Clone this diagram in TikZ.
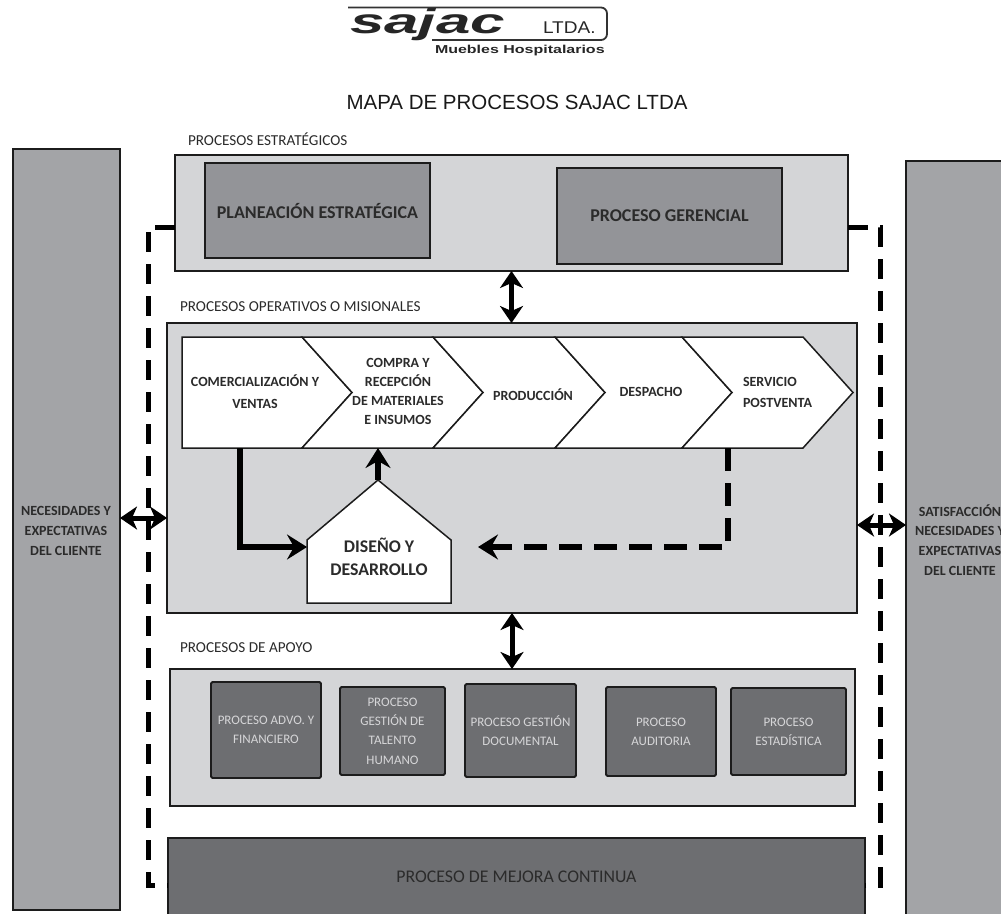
\documentclass[tikz,border=0pt]{standalone}
\usepackage{fontspec}
\setmainfont{Carlito}
\newfontfamily\arialfont{Liberation Sans}
\usetikzlibrary{arrows.meta}
\definecolor{lightbox}{HTML}{D4D5D7}
\definecolor{sidebox}{HTML}{A3A4A7}
\definecolor{midbox}{HTML}{939498}
\definecolor{darkbox}{HTML}{6D6E71}
\definecolor{ink}{HTML}{1C1C1C}
\definecolor{txt}{HTML}{2B2B2B}
\definecolor{lighttxt}{HTML}{D6D6D8}
\begin{document}
\begin{tikzpicture}[x=1pt,y=-1pt,
  every node/.style={inner sep=0pt,outer sep=0pt},
  box/.style={draw=ink,line width=1.6pt,anchor=north west,align=center},
  lbl/.style={anchor=west,text=txt,font=\fontsize{15.2}{17}\selectfont},
  big/.style={font=\bfseries\fontsize{18}{21}\selectfont,text=txt},
  chevshape/.style={fill=white,draw=ink,line width=1.5pt,line join=miter},
  chevtxt/.style={align=center,text=txt,font=\bfseries\fontsize{14}{19}\selectfont},
  sidetxt/.style={align=center,text=txt,font=\bfseries\fontsize{14}{19.8}\selectfont},
  sub/.style={box,fill=darkbox,rounded corners=1.5pt,line width=1.8pt,text=lighttxt,font=\fontsize{13}{19.3}\selectfont},
  solidarrow/.style={draw=black,line width=6pt,-{Stealth[length=20pt,width=25pt,inset=7pt]}},
  dashedarrow/.style={draw=black,line width=6pt,dash pattern=on 23pt off 12pt,-{Stealth[length=20pt,width=25pt,inset=7pt]}},
  dblarrow/.style={draw=black,line width=5pt,{Stealth[length=17pt,width=23pt,inset=5pt]}-{Stealth[length=17pt,width=23pt,inset=5pt]}},
  dashloop/.style={draw=black,line width=5pt,dash pattern=on 20pt off 12pt,line join=miter}
]
\useasboundingbox (0,0) rectangle (1001,913);
\clip (0,0) rectangle (1001,913);
\fill[white] (0,0) rectangle (1001,913);

% logo
\node[anchor=base west,text=black!85,font=\arialfont\bfseries\itshape\fontsize{35}{35}\selectfont] (logo) at (350,33) {\scalebox{1.77}[1]{sajac}};
\node[anchor=base west,text=black!85,font=\arialfont\fontsize{17}{17}\selectfont] (ltda) at (543,33) {\scalebox{1.12}[1]{LTDA.}};
\node[anchor=base west,text=black!85,font=\arialfont\bfseries\fontsize{11.5}{11.5}\selectfont] (muebles) at (435,53) {\scalebox{1.39}[1]{Muebles Hospitalarios}};
\draw[black!80,line width=1.8pt,rounded corners=6pt] (348,7.5) -- (607,7.5) -- (607,40) -- (432,40);

% title
\node[font=\arialfont\fontsize{20.5}{22}\selectfont,text=black!90] (title) at (517,102) {MAPA DE PROCESOS SAJAC LTDA};

% side boxes
\node[box,fill=sidebox,minimum width=107pt,minimum height=761pt] (left) at (13,149) {};
\node[sidetxt] (lefttxt) at (66,531) {NECESIDADES Y\\EXPECTATIVAS\\DEL CLIENTE};
\node[box,fill=sidebox,minimum width=110pt,minimum height=770pt] (right) at (906,161) {};
\node[sidetxt] (righttxt) at (960,540) {SATISFACCIÓN\\NECESIDADES Y\\EXPECTATIVAS\\DEL CLIENTE};

% strategic
\node[lbl] (lblE) at (188,139) {PROCESOS ESTRATÉGICOS};
\node[box,fill=lightbox,minimum width=673pt,minimum height=116pt] (strat) at (175,155) {};
\node[box,fill=midbox,minimum width=225pt,minimum height=95pt,big] (plan) at (205,163) {PLANEACIÓN ESTRATÉGICA};
\node[box,fill=midbox,minimum width=225pt,minimum height=96pt,big] (ger) at (557,168) {PROCESO GERENCIAL};

% operative
\node[lbl] (lblO) at (180,307) {PROCESOS OPERATIVOS O MISIONALES};
\node[box,fill=lightbox,minimum width=690pt,minimum height=290pt] (oper) at (167,323) {};
\filldraw[chevshape] (182,337) -- (302,337) -- (352,392.5) -- (302,448) -- (182,448) -- cycle;
\filldraw[chevshape] (302,337) -- (433,337) -- (483,392.5) -- (433,448) -- (302,448) -- (352,392.5) -- cycle;
\filldraw[chevshape] (433,337) -- (555,337) -- (605,392.5) -- (555,448) -- (433,448) -- (483,392.5) -- cycle;
\filldraw[chevshape] (555,337) -- (682,337) -- (732,392.5) -- (682,448) -- (555,448) -- (605,392.5) -- cycle;
\filldraw[chevshape] (682,337) -- (803,337) -- (853,392.5) -- (803,448) -- (682,448) -- (732,392.5) -- cycle;
\node[chevtxt,font=\bfseries\fontsize{14}{22}\selectfont] (ch1) at (255,392) {COMERCIALIZACIÓN Y\\VENTAS};
\node[chevtxt] (ch2) at (398,391.5) {COMPRA Y\\RECEPCIÓN\\DE MATERIALES\\E INSUMOS};
\node[chevtxt] (ch3) at (533,395) {PRODUCCIÓN};
\node[chevtxt] (ch4) at (651,392) {DESPACHO};
\node[chevtxt,align=left,anchor=west,font=\bfseries\fontsize{14}{21}\selectfont] (ch5) at (743,392.5) {SERVICIO\\POSTVENTA};

% design
\filldraw[chevshape] (307,603) -- (307,540) -- (378,480) -- (451,540) -- (451,603) -- cycle;
\node[text=txt,align=center,font=\bfseries\fontsize{17.8}{23}\selectfont] (dis) at (379,557) {DISEÑO Y\\DESARROLLO};
\coordinate (c1b) at (240,448);
\coordinate (disL) at (307,547);
\coordinate (disTop) at (378,480);
\coordinate (c2b) at (378,448);
\coordinate (c5b) at (728,448);
\coordinate (dashEnd) at (478,547);
\draw[solidarrow] (c1b) |- (disL);
\draw[solidarrow] (disTop) -- (c2b);
\draw[dashedarrow] (c5b) |- (dashEnd);

% support
\node[lbl] (lblA) at (180,648) {PROCESOS DE APOYO};
\node[box,fill=lightbox,minimum width=685pt,minimum height=137pt] (apoyo) at (170,669) {};
\node[sub,minimum width=110pt,minimum height=96pt] (s1) at (211,682) {PROCESO ADVO. Y\\FINANCIERO};
\node[sub,minimum width=105pt,minimum height=88pt] (s2) at (340,687) {PROCESO\\GESTIÓN DE\\TALENTO\\HUMANO};
\node[sub,minimum width=111pt,minimum height=93pt] (s3) at (465,684) {PROCESO GESTIÓN\\DOCUMENTAL};
\node[sub,minimum width=110pt,minimum height=89pt] (s4) at (606,687) {PROCESO\\AUDITORIA};
\node[sub,minimum width=115pt,minimum height=87pt] (s5) at (731,688) {PROCESO\\ESTADÍSTICA};

% improvement
\node[box,fill=darkbox,minimum width=697pt,minimum height=78pt,text=txt,font=\fontsize{17.8}{20}\selectfont] (mejora) at (168,838) {PROCESO DE MEJORA CONTINUA};

% dashed loops
\draw[dashloop] ([yshift=-14pt]strat.west) -- ++(-27,0) |- ([yshift=-8pt]mejora.west);
\draw[dashloop] ([yshift=-14pt]strat.east) -- ++(32,0) |- ([yshift=-8pt]mejora.east);

% double arrows
\draw[dblarrow] (strat.south) -- (strat.south |- oper.north);
\draw[dblarrow] (oper.south) -- (oper.south |- apoyo.north);
\draw[dblarrow] ([yshift=-50pt]oper.west) -- ([yshift=-50pt]oper.west -| left.east);
\draw[dblarrow] ([yshift=-57pt]oper.east) -- ([yshift=-57pt]oper.east -| right.west);
\end{tikzpicture}
\end{document}
